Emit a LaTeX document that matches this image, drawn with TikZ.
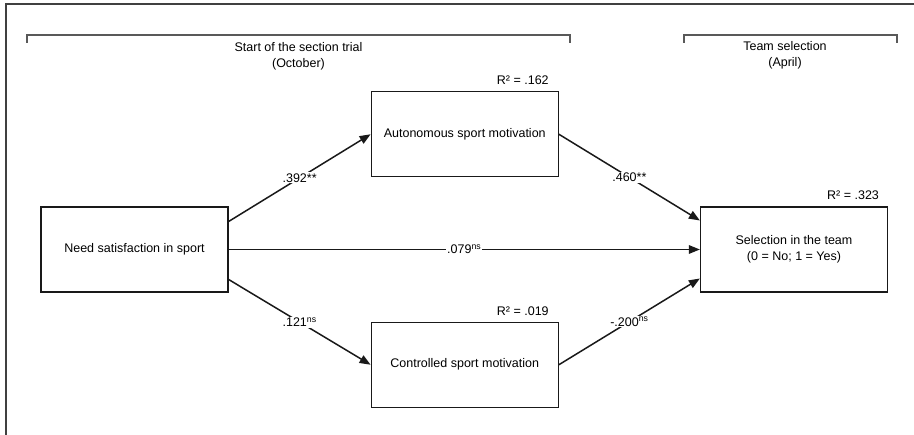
\documentclass[tikz,border=0pt]{standalone}
\usepackage{fontspec}
\setmainfont{Liberation Sans}
\usetikzlibrary{arrows.meta, positioning, calc}
\colorlet{Cline}{black!90}
\colorlet{Cbrk}{black!65}
\colorlet{Cframe}{black!75}
\tikzset{
  varbox/.style={draw=Cline, line width=1.25pt, minimum width=187pt,
    minimum height=85pt, align=center, inner sep=0pt,
    font=\fontsize{12.5}{15.5}\selectfont},
  arr/.style={-{Triangle[length=11pt, width=8.5pt]}, line width=1.5pt, draw=Cline},
  coef/.style={fill=white, inner sep=1pt, font=\fontsize{12.5}{15.5}\selectfont},
  rsq/.style={anchor=base east, inner sep=0pt, font=\fontsize{12.5}{15.5}\selectfont},
  phase/.style={align=center, inner sep=0pt, font=\fontsize{12.5}{15.5}\selectfont},
  brk/.style={draw=Cbrk, line width=2.3pt},
  frame/.style={draw=Cframe, line width=1.2pt},
}

\begin{document}
\begin{tikzpicture}[x=1pt, y=-1pt]
\useasboundingbox (0,0) rectangle (914,435);

%%==========================================================================
%% FRAME AND TIME BRACKETS
%%==========================================================================
\draw[frame] (914,4) -| (6,435);

\coordinate (octL) at (27,43);
\coordinate (octR) at (570,43);
\coordinate (aprL) at (684,43);
\coordinate (aprR) at (897,43);
\draw[brk] (octL) -- ++(0,-8) -| (octR);
\draw[brk] (aprL) -- ++(0,-8) -| (aprR);

\node[phase] (october) at (298.5,56.5) {Start of the section trial\\(October)};
\node[phase] (april) at (785,55.5) {Team selection\\(April)};

%%==========================================================================
%% VARIABLES
%%==========================================================================
\node[varbox] (need) at (134.5,249.5) {Need satisfaction in sport};
\node[varbox, above right=29pt and 142pt of need] (auto) {Autonomous sport motivation};
\node[varbox, below right=29pt and 142pt of need] (ctrl) {Controlled sport motivation};
\node[varbox, below right=29pt and 141pt of auto] (select)
  {Selection in the team\\(0 = No; 1 = Yes)};

\node[rsq] (rauto) at ([xshift=-10pt, yshift=6.5pt]auto.north east) {R² = .162};
\node[rsq] (rctrl) at ([xshift=-10pt, yshift=6.5pt]ctrl.north east) {R² = .019};
\node[rsq] (rselect) at ([xshift=-9pt, yshift=6.5pt]select.north east) {R² = .323};

%%==========================================================================
%% PATHS
%%==========================================================================
\draw[arr] ([yshift=28pt]need.east) -- (auto.west)
  node[coef, midway] {.392**};
\draw[arr] ([yshift=-30pt]need.east) -- (ctrl.west)
  node[coef, midway] {.121\textsuperscript{ns}};
\draw[arr] (need.east) -- (select.west)
  node[coef, midway] {.079\textsuperscript{ns}};
\draw[arr] (auto.east) -- ([yshift=29pt]select.west)
  node[coef, midway] {.460**};
\draw[arr] (ctrl.east) -- ([yshift=-29pt]select.west)
  node[coef, midway] {-.200\textsuperscript{ns}};

\end{tikzpicture}
\end{document}
